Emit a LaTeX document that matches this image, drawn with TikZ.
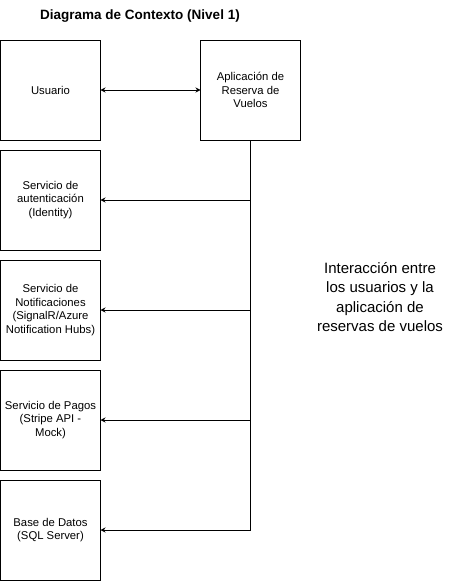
\documentclass[tikz,border=0pt]{standalone}
\usepackage{fontspec}
\setmainfont{Liberation Sans}
\usepackage{tikz}
\usetikzlibrary{arrows.meta, positioning}

\begin{document}
\begin{tikzpicture}[
  x=1pt, y=1pt,
  node distance=10pt,
  sysbox/.style={rectangle, draw, line width=0.8pt, minimum size=100pt, inner sep=0pt, outer sep=0pt, align=center, font=\fontsize{11.3}{13.5}\selectfont},
  flow/.style={-{Stealth[length=5pt, width=5pt]}, line width=0.8pt},
  both/.style={{Stealth[length=5pt, width=5pt]}-{Stealth[length=5pt, width=5pt]}, line width=0.8pt}
]
\useasboundingbox (0,0) rectangle (451,-581);

% Title
\node[font=\bfseries\fontsize{13.5}{16}\selectfont] (title) at (140,-16) {Diagrama de Contexto (Nivel 1)};

% Left column
\node[sysbox, anchor=north west] (usuario) at (0.5,-40) {Usuario};
\node[sysbox, below=of usuario] (auth) {Servicio de\\autenticación\\(Identity)};
\node[sysbox, below=of auth] (notif) {Servicio de\\Notificaciones\\(SignalR/Azure\\Notification Hubs)};
\node[sysbox, below=of notif] (pagos) {Servicio de Pagos\\(Stripe API -\\Mock)};
\node[sysbox, below=of pagos] (db) {Base de Datos\\(SQL Server)};

% Application
\node[sysbox, right=100pt of usuario] (app) {Aplicación de\\Reserva de\\Vuelos};

\draw[both] (usuario) -- (app);

% Bus to the services
\draw[flow] (app.south) |- (db.east);
\draw[flow] (app.south |- auth.east) -- (auth.east);
\draw[flow] (app.south |- notif.east) -- (notif.east);
\draw[flow] (app.south |- pagos.east) -- (pagos.east);

% Note
\node[align=center, font=\fontsize{15}{19.5}\selectfont] (note) at (380,-297) {Interacción entre\\los usuarios y la\\aplicación de\\reservas de vuelos};

\end{tikzpicture}
\end{document}
